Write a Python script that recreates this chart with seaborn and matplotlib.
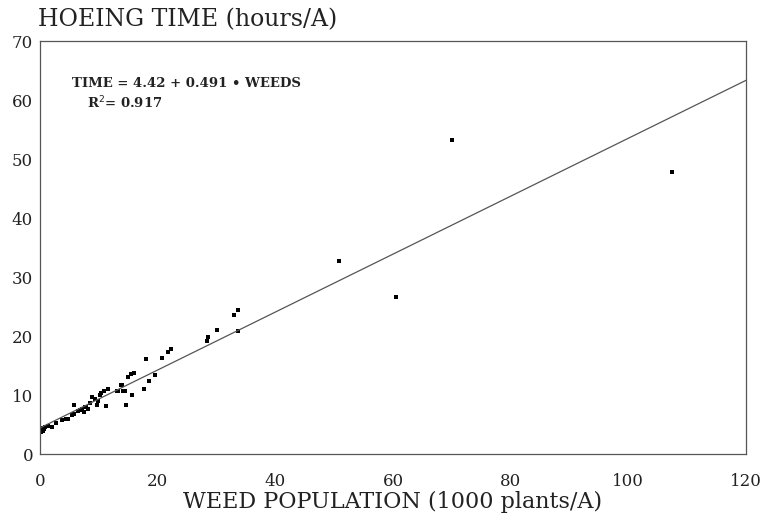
import numpy as np
import pandas as pd
import matplotlib
matplotlib.use("Agg")
import matplotlib.pyplot as plt
import seaborn as sns

# weed population (1000 plants/A) and hoeing time (hours/A)
weeds = [0.0, 0.3, 0.5, 0.85, 1.4, 2.0, 0.2, 0.6, 2.8, 3.7, 4.4, 4.8, 5.4, 5.7,
         5.7, 6.5, 6.8, 7.1, 7.4, 7.6, 7.9, 8.2, 8.5, 8.8, 9.3, 9.7, 9.9, 10.2,
         10.4, 10.8, 11.3, 11.6, 13.1, 13.3, 13.7, 13.9, 14.1, 14.4, 14.7, 15.0,
         15.4, 15.6, 15.9, 17.6, 18.0, 18.6, 19.5, 20.7, 21.8, 22.3,
         28.4, 28.5, 30.1, 32.9, 33.7, 33.7, 50.8, 60.5, 70.0, 107.4]
hours = [4.1, 4.4, 3.9, 4.6, 4.7, 4.5, 3.8, 4.2, 5.2, 5.8, 5.9, 6.0, 6.6, 6.8,
         8.3, 7.3, 7.5, 7.7, 7.2, 7.9, 8.0, 7.6, 8.6, 9.7, 9.4, 8.3, 8.9, 10.0,
         10.4, 10.6, 8.1, 11.1, 10.6, 10.6, 11.7, 11.7, 10.6, 10.6, 8.3, 13.1,
         13.5, 10.0, 13.7, 11.0, 16.1, 12.3, 13.4, 16.2, 17.3, 17.8,
         19.2, 19.8, 21.0, 23.6, 24.4, 20.8, 32.7, 26.6, 53.2, 47.8]

# fitted equation printed on the chart
intercept = 4.42
slope = 0.491
line_x = np.array([0, 120])
line_y = intercept + slope * line_x

x_ticks = [0, 20, 40, 60, 80, 100, 120]
y_ticks = [0, 10, 20, 30, 40, 50, 60, 70]

sns.set_style("white")
plt.rcParams['font.family'] = ['DejaVu Serif']

fig = plt.figure(figsize=(7.62, 5.13), dpi=100)
ax = fig.add_axes([0.0525, 0.115, 0.9265, 0.805])

pts = pd.DataFrame({'weeds': weeds, 'hours': hours})
sns.scatterplot(data=pts, x='weeds', y='hours', marker='s', s=11, color='black',
                edgecolor='black', linewidth=0, ax=ax)
sns.lineplot(x=line_x, y=line_y, color='#555555', linewidth=0.9, ax=ax)

ax.set_xlim(0, 120)
ax.set_ylim(0, 70)
ax.set_xticks(x_ticks)
ax.set_yticks(y_ticks)
ax.tick_params(direction='in', length=8, width=0.8, color='#444444',
               labelsize=12, labelcolor='#222222')
ax.tick_params(axis='x', pad=14)
ax.tick_params(axis='y', pad=5)
for s in ax.spines.values():
    s.set_color('#555555')
    s.set_linewidth(0.9)

ax.set_xlabel('WEED POPULATION (1000 plants/A)', fontsize=16, color='#222222', labelpad=0)
ax.set_ylabel('')
fig.text(0.05, 0.962, 'HOEING TIME (hours/A)', fontsize=17, color='#222222',
         va='center', ha='left')

ax.text(0.045, 0.898, 'TIME = 4.42 + 0.491 \u2022 WEEDS', transform=ax.transAxes,
        fontsize=9.5, fontweight='semibold', color='#222222', va='center')
ax.text(0.066, 0.85, 'R$^{2}$= 0.917', transform=ax.transAxes,
        fontsize=9.5, fontweight='semibold', color='#222222', va='center')

fig.savefig('out.png', dpi=100)
